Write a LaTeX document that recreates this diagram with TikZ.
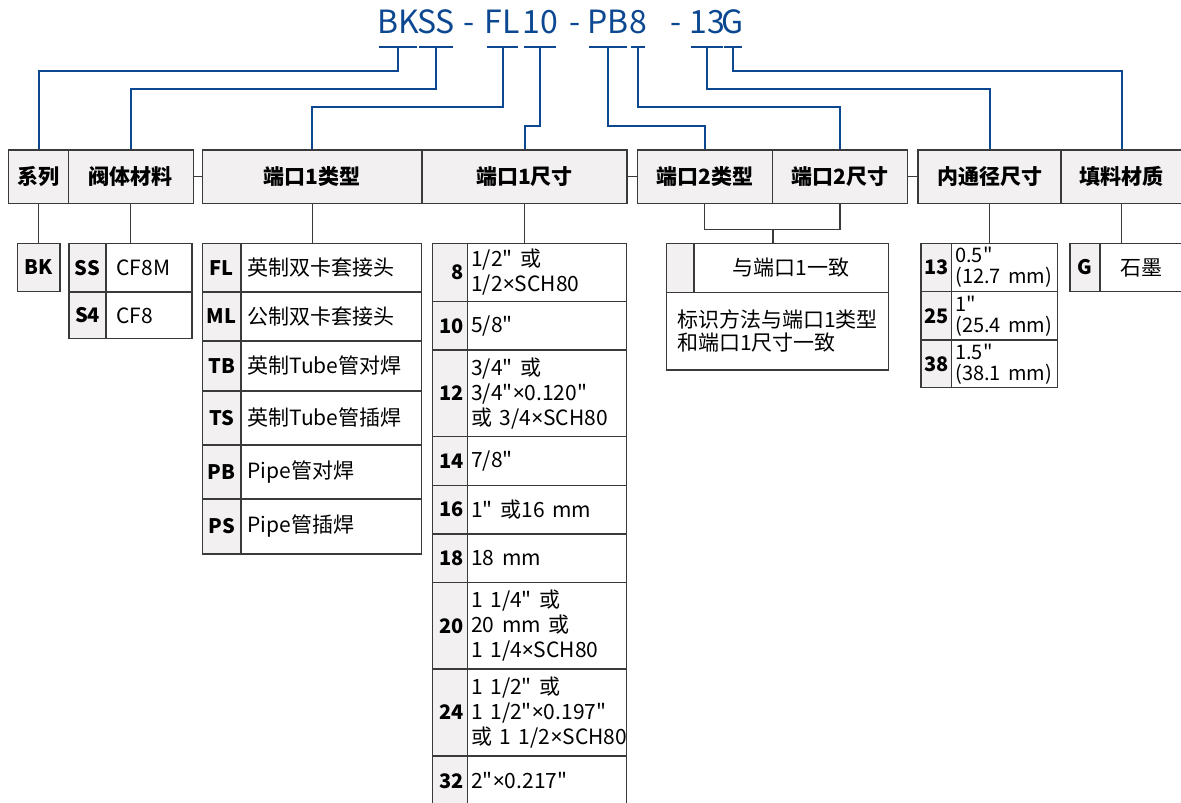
\documentclass[tikz,border=0pt]{standalone}
\usepackage{fontspec}
\setmainfont{Noto Sans CJK SC}[Ligatures=TeXOff, WordSpace=1.6]
\newfontfamily\latinfont{Noto Sans}
\newcommand\tms{{\latinfont ×}}
\usetikzlibrary{calc}

\definecolor{codeblue}{RGB}{12,72,145}
\definecolor{cellgray}{RGB}{242,240,240}
\definecolor{framegray}{RGB}{58,58,58}

\begin{document}
\begin{tikzpicture}[x=1pt, y=-1pt,
    box/.style n args={4}{at={({(#1+#3)/2},{(#2+#4)/2})},
      minimum width={(#3-#1)*1pt}, minimum height={(#4-#2)*1pt}},
    cell/.style={draw=framegray, line width=1.3pt, inner sep=0pt},
    hdr/.style={cell, fill=cellgray, font=\bfseries\fontsize{21}{21}\selectfont},
    code/.style={cell, fill=cellgray, font=\bfseries\fontsize{20}{20}\selectfont},
    val/.style={cell, fill=white},
    txt/.style={inner sep=0pt, anchor=west, align=left, font=\fontsize{21}{25}\selectfont},
    codetxt/.style={inner sep=0pt, font=\bfseries\fontsize{20}{20}\selectfont},
    title/.style={inner sep=0pt, anchor=base, text=codeblue, font=\fontsize{32}{32}\selectfont},
    bline/.style={draw=codeblue, line width=2pt},
    gline/.style={draw=framegray, line width=1.3pt},
  ]
  \useasboundingbox (0,0) rectangle (1181,803);

  % order code
  \node[title] (tBK) at (398,33.3) {BK};
  \node[title] (tSS) at (436,33.3) {SS};
  \node[title] (dash1) at (469,33.3) {-};
  \node[title] (tFL) at (502.5,33.3) {FL};
  \node[title] (t10) at (540,33.3) {10};
  \node[title] (dash2) at (575,33.3) {-};
  \node[title] (tPB) at (608,33.3) {PB};
  \node[title] (t8) at (638,33.3) {8};
  \node[title] (dash3) at (676,33.3) {-};
  \node[title] (t13) at (707,33.3) {13};
  \node[title] (tG) at (733,33.3) {G};

  % header row
  \node[hdr, box={8.7}{150}{68.3}{203.3}] (hSer) {系列};
  \node[hdr, box={68.3}{150}{193.3}{203.3}] (hBody) {阀体材料};
  \node[hdr, box={202.3}{150}{422}{203.3}] (hP1t) {端口1类型};
  \node[hdr, box={422}{150}{627}{203.3}] (hP1s) {端口1尺寸};
  \node[hdr, box={637.3}{150}{772.3}{203.3}] (hP2t) {端口2类型};
  \node[hdr, box={772.3}{150}{907.7}{203.3}] (hP2s) {端口2尺寸};
  \node[hdr, box={918}{150}{1061}{203.3}] (hBore) {内通径尺寸};
  \node[hdr, box={1061}{150}{1182}{203.3}] (hFill) {填料材质};

  % series
  \node[code, box={17.7}{243.3}{60}{291.7}] (sBK) {BK};

  % body material
  \foreach \cd/\ya/\yb/\tx in {SS/243.3/292/CF8M, S4/292/338.7/CF8} {
    \node[code, box={69}{\ya}{106}{\yb}] (bd\cd) {\cd};
    \node[val, box={106}{\ya}{192}{\yb}] (bdv\cd) {};
    \node[txt] (bdt\cd) at ([xshift=11pt]bdv\cd.west) {\tx};
  }

  % port 1 type
  \foreach \cd/\ya/\yb/\tx in {FL/243.3/292/英制双卡套接头, ML/292/341/公制双卡套接头,
      TB/341/391/英制Tube管对焊, TS/391/445/英制Tube管插焊,
      PB/445/499/Pipe管对焊, PS/499/554/Pipe管插焊} {
    \node[code, box={202.3}{\ya}{241}{\yb}] (ty\cd) {\cd};
    \node[val, box={241}{\ya}{421.7}{\yb}] (tyv\cd) {};
    \node[txt] (tyt\cd) at ([xshift=7pt]tyv\cd.west) {\tx};
  }

  % port 1 size
  \foreach \cd/\ya/\yb/\tx in {8/243.3/301.7/{1/2" 或\\1/2\tms SCH80}, 10/301.7/350/{5/8"},
      12/350/436.7/{3/4" 或\\3/4"\tms 0.120"\\或 3/4\tms SCH80}, 14/436.7/485.3/{7/8"},
      16/485.3/534/{1" 或16 mm}, 18/534/582.7/{18 mm},
      20/582.7/669/{1 1/4" 或\\20 mm 或\\1 1/4\tms SCH80},
      24/669/756/{1 1/2" 或\\1 1/2"\tms 0.197"\\或 1 1/2\tms SCH80},
      32/756/806/{2"\tms 0.217"}} {
    \node[code, box={432.5}{\ya}{467.7}{\yb}] (sz\cd) {};
    \node[codetxt, anchor=east] (szc\cd) at ([xshift=-4pt]sz\cd.east) {\cd};
    \node[val, box={467.7}{\ya}{626.7}{\yb}] (szv\cd) {};
    \node[txt] (szt\cd) at ([xshift=4pt]szv\cd.west) {\tx};
  }

  % port 2
  \node[code, box={666.7}{243.3}{694}{292.3}] (p2c) {};
  \node[val, box={694}{243.3}{888.3}{292.3}, font=\fontsize{21}{21}\selectfont] (p2v) {与端口1一致};
  \node[val, box={666.7}{292.3}{888.3}{370}, align=left,
    font=\fontsize{21}{23}\selectfont] (p2n) {标识方法与端口1类型\\和端口1尺寸一致};

  % bore
  \foreach \cd/\ya/\yb/\tx in {13/243.3/291.7/{0.5"\\(12.7 mm)},
      25/291.7/340/{1"\\(25.4 mm)}, 38/340/387.7/{1.5"\\(38.1 mm)}} {
    \node[code, box={921}{\ya}{951.7}{\yb}] (bo\cd) {\cd};
    \node[val, box={951.7}{\ya}{1057.7}{\yb}] (bov\cd) {};
    \node[txt, font=\fontsize{20}{21}\selectfont] (bot\cd) at ([xshift=4pt]bov\cd.west) {\tx};
  }

  % packing
  \node[code, box={1070}{243.3}{1100}{291.7}] (cG) {G};
  \node[val, box={1100}{243.3}{1182}{291.7}, font=\fontsize{21}{21}\selectfont] (vG) {石墨};

  % grey connectors
  \draw[gline] (hBody.east) -- (hP1t.west);
  \draw[gline] (hP1s.east) -- (hP2t.west);
  \draw[gline] (hP2s.east) -- (hBore.west);
  \draw[gline] (hSer.south) -- (hSer.south |- sBK.north);
  \draw[gline] (hBody.south) -- (hBody.south |- bdSS.north);
  \draw[gline] (hP1t.south) -- (hP1t.south |- tyFL.north);
  \draw[gline] (hP1s.south) -- (hP1s.south |- sz8.north);
  \draw[gline] (hP2t.south) -- (hP2t.south |- 0,229.3) -| (hP2s.south);
  \draw[gline] (hP2t.south east |- 0,229.3) -- (hP2t.south east |- p2v.north);
  \draw[gline] (hBore.south) -- (hBore.south |- bo13.north);
  \draw[gline] (hFill.south) -- (hFill.south |- cG.north);

  % blue leaders
  \foreach \n/\y/\h in {BK/71/hSer, SS/89.3/hBody, FL/107.3/hP1t, 10/125.7/hP1s,
      PB/125.7/hP2t, 8/107.3/hP2s, 13/89.3/hBore, G/71/hFill} {
    \draw[bline] ($(t\n.base west)+(2,13.4)$) -- ($(t\n.base east)+(-2,13.4)$);
    \draw[bline] ($(t\n.base)+(0,13.4)$) -- (t\n.base |- 0,\y) -| (\h.north);
  }
\end{tikzpicture}
\end{document}
